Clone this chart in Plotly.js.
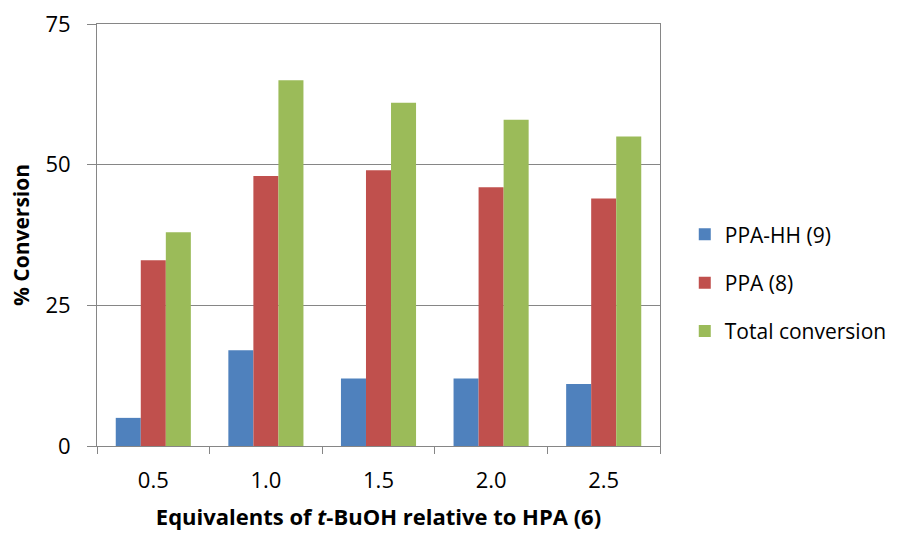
<!DOCTYPE html>
<html>
<head>
<meta charset="utf-8">
<script src="https://cdn.plot.ly/plotly-3.0.1.min.js"></script>
<style>html,body{margin:0;padding:0;background:#fff;}#chart{width:905px;height:533px;}</style>
</head>
<body>
<div id="chart"></div>
<script>
const categories = ["0.5", "1.0", "1.5", "2.0", "2.5"];
const ppaHH = [5, 17, 12, 12, 11];
const ppa = [33, 48, 49, 46, 44];
const total = [38, 65, 61, 58, 55];
const seriesNames = ["PPA-HH (9)", "PPA (8)", "Total conversion"];
const seriesColors = ["#4F81BD", "#C0504D", "#9BBB59"];
const yTicks = [0, 25, 50, 75];

const FONT = "Open Sans, sans-serif";
const series = [ppaHH, ppa, total];
const data = series.map((vals, i) => ({
  type: "bar",
  x: categories,
  y: vals,
  name: seriesNames[i],
  legendgroup: "g" + i,
  marker: {color: seriesColors[i], line: {width: 0}},
  hoverinfo: "skip"
}));

const layout = {
  width: 905, height: 533,
  margin: {l: 97, r: 245, t: 24, b: 87, pad: 0},
  paper_bgcolor: "#fff", plot_bgcolor: "#fff",
  font: {family: FONT, size: 22, color: "#000"},
  barmode: "group",
  bargap: 0.333,
  bargroupgap: 0,
  showlegend: true,
  legend: {
    x: 1.044, xanchor: "left", xref: "paper",
    y: 0.387, yanchor: "middle",
    font: {family: FONT, size: 21, color: "#000"},
    tracegroupgap: 18,
    bgcolor: "rgba(0,0,0,0)", borderwidth: 0,
    traceorder: "grouped"
  },
  xaxis: {
    type: "category",
    showgrid: false,
    showline: true, linecolor: "#868686", linewidth: 1, mirror: true,
    ticks: "outside", ticklen: 7, tickcolor: "#868686", tickwidth: 1,
    tickson: "boundaries",
    ticklabelstandoff: 15,
    tickfont: {family: FONT, size: 22, color: "#000"},
    title: {text: "<b>Equivalents of <i>t</i>-BuOH relative to HPA (6)</b>", font: {family: FONT, size: 22, color: "#000"}, standoff: 16},
    automargin: false,
    fixedrange: true
  },
  yaxis: {
    range: [0, 75],
    tickvals: yTicks,
    ticktext: yTicks.map(String),
    showgrid: true, gridcolor: "#868686", gridwidth: 1,
    zeroline: false,
    showline: true, linecolor: "#868686", linewidth: 1, mirror: true,
    ticks: "outside", ticklen: 9, tickcolor: "#868686", tickwidth: 1,
    ticklabelstandoff: 12,
    tickfont: {family: FONT, size: 22, color: "#000"},
    title: {text: "<b>% Conversion</b>", font: {family: FONT, size: 21, color: "#000"}, standoff: 10},
    automargin: false,
    fixedrange: true
  }
};

Plotly.newPlot("chart", data, layout, {staticPlot: true, displayModeBar: false});
</script>
</body>
</html>
